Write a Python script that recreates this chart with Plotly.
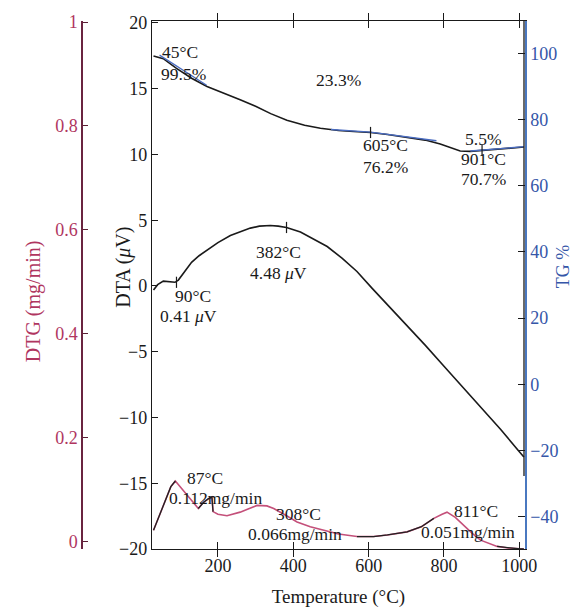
import plotly.graph_objects as go

# ---------------- data ----------------
dta_T = [29, 40, 55, 70, 86, 95, 109, 130, 150, 171, 200, 233, 260, 286, 310, 339, 360, 382,
         419, 450, 490, 530, 569, 610, 658, 700, 750, 800, 850, 905, 950, 1000, 1012]
dta_V = [-0.3, 0.1, 0.37, 0.3, 0.28, 0.45, 1.0, 1.8, 2.3, 2.7, 3.3, 3.84, 4.15, 4.4, 4.55, 4.6, 4.55, 4.45,
         4.1, 3.6, 3.0, 2.1, 1.1, -0.2, -1.65, -3.0, -4.5, -6.1, -7.7, -9.4, -10.9, -12.6, -13.0]

tg_T = [29, 55, 90, 130, 171, 210, 259, 300, 340, 383, 430, 472, 520, 560, 605, 650, 702, 750,
        790, 820, 843, 870, 901, 923, 960, 1012]
tg_P = [99.2, 98.4, 95.5, 92.5, 90.0, 88.3, 86.0, 84.0, 81.8, 79.8, 78.3, 77.4, 76.7, 76.4, 76.1, 75.5, 74.6, 73.8,
        72.6, 71.3, 70.5, 70.4, 70.7, 70.9, 71.2, 71.7]

tan1_T = [45, 170]
tan1_P = [99.5, 90.4]
tan2_T = [500, 605, 780]
tan2_P = [77.0, 76.2, 73.6]
tan3_T = [870, 1012]
tan3_P = [70.5, 71.8]

dtg_T = [29, 45, 60, 75, 87, 100, 118, 135, 148, 162, 175, 184, 187, 200, 224, 259, 280, 304, 330, 348,
         380, 410, 445, 480, 520, 569, 613, 650, 702, 740, 773, 795, 808, 830, 852, 875, 897, 920, 941,
         970, 1003, 1012]
dtg_R = [0.021, 0.05, 0.076, 0.105, 0.116, 0.105, 0.088, 0.075, 0.063, 0.075, 0.082, 0.085, 0.057, 0.052,
         0.049, 0.056, 0.062, 0.069, 0.068, 0.063, 0.05, 0.037, 0.028, 0.021, 0.014, 0.009, 0.009, 0.012,
         0.018, 0.028, 0.044, 0.052, 0.056, 0.046, 0.031, 0.015, 0.002, -0.005, -0.01, -0.013, -0.015, -0.015]

dta_ticks = [-20, -15, -10, -5, 0, 5, 10, 15, 20]
tg_ticks = [-40, -20, 0, 20, 40, 60, 80, 100]
dtg_ticks = [0, 0.2, 0.4, 0.6, 0.8, 1]
dtg_ticklabels = ["0", "0.2", "0.4", "0.6", "0.8", "1"]
x_ticks = [200, 400, 600, 800, 1000]

# ---------------- styling ----------------
FONT = "Liberation Serif"
CRIMSON = "#b0365f"
BLUE = "#3556a8"
W, H = 587, 615
ML, MR, MT, MB = 82, 62, 15, 64
PW = W - ML - MR
PH = H - MT - MB


def px(x):
    return (x - ML) / PW


def py(y):
    return 1 - (y - MT) / PH


fig = go.Figure()

# DTG (crimson) with black overlays
fig.add_trace(go.Scatter(x=dtg_T, y=dtg_R, yaxis="y3", mode="lines",
                         line=dict(color="#c4507a", width=1.6), showlegend=False))
seg_idx = [(0, 5), (8, 13), (25, 31), (38, 42)]
for a, b in seg_idx:
    fig.add_trace(go.Scatter(x=dtg_T[a:b], y=dtg_R[a:b], yaxis="y3", mode="lines",
                             line=dict(color="#222", width=1.3), showlegend=False))

# DTA
fig.add_trace(go.Scatter(x=dta_T, y=dta_V, yaxis="y", mode="lines",
                         line=dict(color="#1a1a1a", width=1.6), showlegend=False))
fig.add_trace(go.Scatter(x=[90, 382], y=[0.28, 4.45], yaxis="y", mode="markers",
                         marker=dict(symbol="line-ns", size=8, line=dict(color="#1a1a1a", width=1.2)),
                         showlegend=False))

# TG
fig.add_trace(go.Scatter(x=tg_T, y=tg_P, yaxis="y2", mode="lines",
                         line=dict(color="#1a1a1a", width=1.6), showlegend=False))
for tx, ty in [(tan1_T, tan1_P), (tan2_T, tan2_P), (tan3_T, tan3_P)]:
    fig.add_trace(go.Scatter(x=tx, y=ty, yaxis="y2", mode="lines",
                             line=dict(color="#4a6cc0", width=1.3), showlegend=False))
fig.add_trace(go.Scatter(x=[605, 901], y=[76.1, 70.7], yaxis="y2", mode="markers",
                         marker=dict(symbol="line-ns", size=8, line=dict(color="#1a1a1a", width=1.2)),
                         showlegend=False))

tickfont_black = dict(family=FONT, size=18, color="#1a1a1a")

fig.update_layout(
    width=W, height=H,
    margin=dict(l=ML, r=MR, t=MT, b=MB),
    paper_bgcolor="white", plot_bgcolor="white",
    font=dict(family=FONT, size=16, color="#1a1a1a"),
    xaxis=dict(domain=[px(152), 1], range=[25, 1015], tickvals=x_ticks, ticks="inside", ticklen=7,
               tickcolor="#1a1a1a", showline=True, linecolor="#1a1a1a", linewidth=1.3, mirror="allticks",
               showgrid=False, zeroline=False, tickfont=tickfont_black,
               title=dict(text="Temperature (°C)", font=dict(family=FONT, size=19, color="#1a1a1a"), standoff=14)),
    yaxis=dict(range=[-20, 20.15], tickvals=dta_ticks, ticks="inside", ticklen=6, tickcolor="#1a1a1a",
               showline=True, linecolor="#1a1a1a", linewidth=1.3, showgrid=False, zeroline=False,
               tickfont=tickfont_black),
    yaxis2=dict(range=[-49.8, 109.8], tickvals=tg_ticks, overlaying="y", side="right", anchor="x",
                ticks="inside", ticklen=7, tickcolor="#1a1a1a", showline=True, linecolor="#4a78c0",
                linewidth=1.5, showgrid=False, zeroline=False,
                tickfont=dict(family=FONT, size=18, color=BLUE)),
    yaxis3=dict(range=[-0.015, 1.002], tickvals=dtg_ticks, ticktext=dtg_ticklabels, overlaying="y",
                side="left", anchor="free", position=0, ticks="inside", ticklen=5, tickcolor="#5a1f35",
                showline=True, linecolor="#6a2440", linewidth=1.5, showgrid=False, zeroline=False,
                tickfont=dict(family=FONT, size=18, color=CRIMSON)),
)

# black overlay on top portion of right axis
fig.add_shape(type="line", xref="paper", yref="paper", x0=px(524), x1=px(524), y0=py(15), y1=py(477),
              line=dict(color="#1a1a1a", width=1.3))

ann = [
    ("45°C", 180, 46), ("99.5%", 183, 69), ("23.3%", 338, 75),
    ("605°C", 385, 141), ("76.2%", 385, 163),
    ("5.5%", 483, 135), ("901°C", 483, 155), ("70.7%", 483, 175),
    ("90°C", 193, 294), ("0.41 <i>μ</i>V", 188, 314),
    ("382°C", 278, 250), ("4.48 <i>μ</i>V", 278, 271),
    ("87°C", 205, 479), ("0.112mg/min", 215, 499),
    ("308°C", 298, 515), ("0.066mg/min", 295, 536),
    ("811°C", 476, 512), ("0.051mg/min", 468, 534),
]
for t, x, y in ann:
    fig.add_annotation(text=t, xref="paper", yref="paper", x=px(x), y=py(y), showarrow=False,
                       xanchor="center", yanchor="middle", font=dict(family=FONT, size=17.5, color="#1a1a1a"))

fig.add_annotation(text="DTA (<i>μ</i>V)", xref="paper", yref="paper", x=px(110), y=py(265), textangle=-90,
                   showarrow=False, font=dict(family=FONT, size=20, color="#1a1a1a"))
fig.add_annotation(text="DTG (mg/min)", xref="paper", yref="paper", x=px(20), y=py(300), textangle=-90,
                   showarrow=False, font=dict(family=FONT, size=20, color=CRIMSON))
fig.add_annotation(text="TG %", xref="paper", yref="paper", x=px(575), y=py(264), textangle=-90,
                   showarrow=False, font=dict(family=FONT, size=18, color=BLUE))

fig.write_html("out.html")
